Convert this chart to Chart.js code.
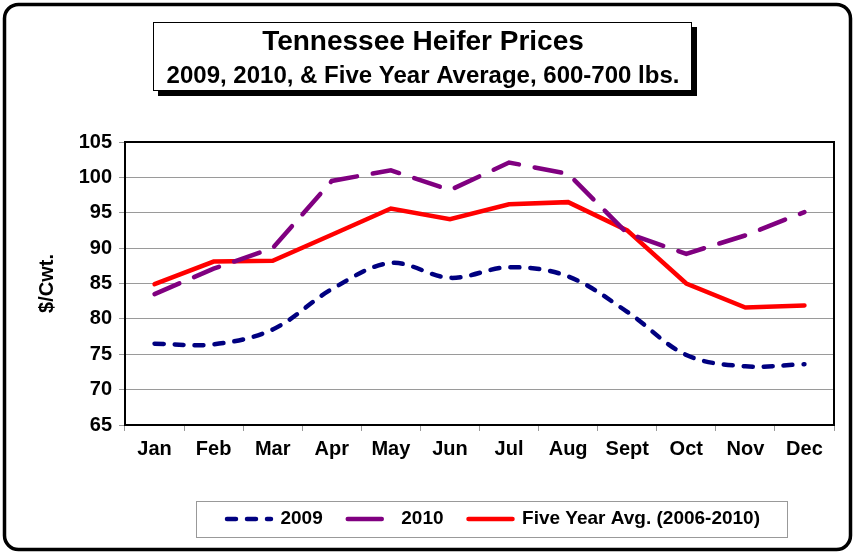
<!DOCTYPE html>
<html>
<head>
<meta charset="utf-8">
<script src="https://cdn.jsdelivr.net/npm/chart.js@4.4.0/dist/chart.umd.min.js"></script>
<style>
  html, body { margin: 0; padding: 0; background: #ffffff; }
  #wrap { position: relative; width: 857px; height: 554px; }
</style>
</head>
<body>
<div id="wrap"><canvas id="c" width="857" height="554"></canvas></div>
<script>
const months = ['Jan','Feb','Mar','Apr','May','Jun','Jul','Aug','Sept','Oct','Nov','Dec'];
const prices2009 = [76.5, 76.4, 78.5, 84.2, 87.9, 85.8, 87.3, 86.0, 81.0, 74.9, 73.3, 73.6];
const prices2010 = [83.5, 87.1, 90.0, 99.5, 101.0, 98.2, 102.1, 100.5, 92.1, 89.2, 91.8, 95.1];
const fiveYearAvg = [84.9, 88.1, 88.2, 91.9, 95.6, 94.1, 96.2, 96.5, 92.5, 85.0, 81.6, 81.9];
const seriesNames = ['2009', '2010', 'Five Year Avg. (2006-2010)'];
const titleText = 'Tennessee Heifer Prices';
const subtitleText = '2009, 2010, & Five Year Average, 600-700 lbs.';
const yAxisTitle = '$/Cwt.';
const yMin = 65, yMax = 105, yStep = 5;

const FONT = 'Arial, "Liberation Sans", sans-serif';

const framePlugin = {
  id: 'frame',
  afterLayout(chart) {
    chart.boxes.forEach(b => {
      if (b.options && (b.options.text === titleText || b.options.text === subtitleText)) {
        b.left = 153; b.right = 693;
      }
    });
    if (chart.legend) { chart.legend.left = 153; chart.legend.right = 834; }
  },
  beforeDraw(chart) {
    const ctx = chart.ctx;
    ctx.save();
    ctx.fillStyle = '#ffffff';
    ctx.fillRect(0, 0, chart.width, chart.height);
    ctx.strokeStyle = '#000';
    ctx.lineWidth = 3.5;
    ctx.beginPath();
    ctx.roundRect(4.5, 4.5, 846, 545, 14);
    ctx.stroke();
    ctx.fillStyle = '#000';
    ctx.fillRect(158, 27, 539, 69);
    ctx.fillStyle = '#fff';
    ctx.fillRect(153.5, 22.5, 538, 68);
    ctx.lineWidth = 1;
    ctx.strokeStyle = '#000';
    ctx.strokeRect(153.5, 22.5, 538, 68);
    ctx.strokeStyle = '#999';
    ctx.strokeRect(196.5, 501.5, 591, 36);
    ctx.restore();
  },
  beforeDatasetsDraw(chart) {
    const {ctx, chartArea: a} = chart;
    ctx.save();
    ctx.strokeStyle = '#000';
    ctx.lineWidth = 2;
    ctx.strokeRect(a.left, a.top, a.right - a.left, a.bottom - a.top);
    ctx.restore();
  }
};

new Chart(document.getElementById('c'), {
  type: 'line',
  data: {
    labels: months,
    datasets: [
      {
        label: seriesNames[0], data: prices2009,
        borderColor: '#000080', backgroundColor: '#000080',
        borderWidth: 4.5, borderDash: [9, 11], borderCapStyle: 'round',
        legendDash: [9, 11],
        tension: 0.35, pointRadius: 0, fill: false
      },
      {
        label: seriesNames[1], data: prices2010,
        borderColor: '#800080', backgroundColor: '#800080',
        borderWidth: 4.5, borderDash: [27, 16], borderCapStyle: 'round',
        legendDash: [34, 30],
        tension: 0, pointRadius: 0, fill: false
      },
      {
        label: seriesNames[2], data: fiveYearAvg,
        borderColor: '#ff0000', backgroundColor: '#ff0000',
        borderWidth: 4.5, borderCapStyle: 'round',
        legendDash: [],
        tension: 0, pointRadius: 0, fill: false
      }
    ]
  },
  options: {
    responsive: false,
    animation: false,
    devicePixelRatio: 1,
    layout: { padding: { left: 20, right: 23, top: 0, bottom: 15.5 } },
    plugins: {
      title: {
        display: true, text: titleText, color: '#000',
        font: { family: FONT, size: 28, weight: 'bold', lineHeight: 1.2 },
        padding: { top: 25, bottom: 0 }
      },
      subtitle: {
        display: true, text: subtitleText, color: '#000',
        font: { family: FONT, size: 24, weight: 'bold', lineHeight: 1.2 },
        padding: { top: 3, bottom: 51.6 }
      },
      legend: {
        display: true, position: 'bottom',
        labels: {
          color: '#000',
          font: { family: FONT, size: 19, weight: 'bold' },
          usePointStyle: true, pointStyle: 'line', pointStyleWidth: 44,
          padding: 25,
          generateLabels(chart) {
            return chart.data.datasets.map((ds, i) => ({
              text: ds.label,
              fillStyle: ds.borderColor,
              strokeStyle: ds.borderColor,
              fontColor: '#000',
              lineWidth: ds.borderWidth,
              lineDash: ds.legendDash || [],
              lineCap: 'round',
              pointStyle: 'line',
              hidden: false,
              datasetIndex: i
            }));
          }
        }
      },
      tooltip: { enabled: false }
    },
    scales: {
      x: {
        type: 'category',
        offset: true,
        grid: { display: true, drawOnChartArea: false, drawTicks: true, tickLength: 6, color: '#999', offset: true },
        border: { display: true, color: '#000', width: 2 },
        ticks: { color: '#000', font: { family: FONT, size: 20, weight: 'bold' }, padding: 6, maxRotation: 0 },
        afterFit(s) { s.height = 59.5; }
      },
      y: {
        min: yMin, max: yMax,
        grid: { color: '#9a9a9a', lineWidth: 1, tickLength: 6, drawTicks: true },
        border: { display: true, color: '#000', width: 2 },
        ticks: { stepSize: yStep, color: '#000', font: { family: FONT, size: 20, weight: 'bold' }, padding: 7 },
        title: {
          display: true, text: yAxisTitle, color: '#000',
          font: { family: FONT, size: 20, weight: 'bold' },
          padding: { top: 15, bottom: 0 }
        },
        afterFit(s) { s.width = 105; }
      }
    }
  },
  plugins: [framePlugin]
});
</script>
</body>
</html>
